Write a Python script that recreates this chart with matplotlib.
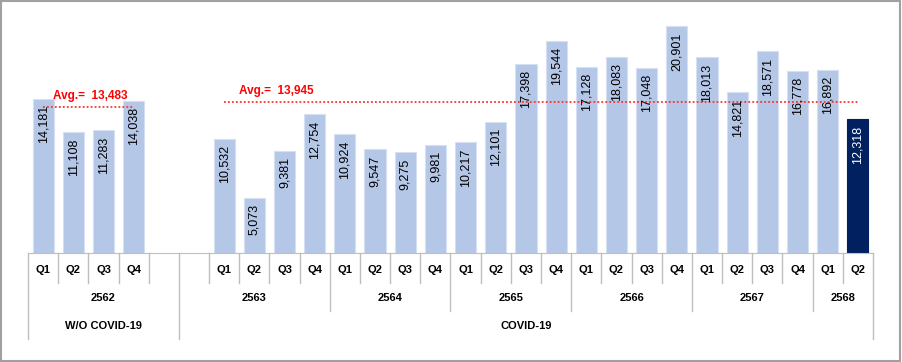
import matplotlib
matplotlib.use("Agg")
import matplotlib.pyplot as plt
import matplotlib.transforms as mtransforms
from matplotlib.patches import Rectangle

plt.rcParams['font.family'] = ['Liberation Sans', 'DejaVu Sans']

# ---- data ----
quarters = ['Q1', 'Q2', 'Q3', 'Q4', '',
            '', 'Q1', 'Q2', 'Q3', 'Q4',
            'Q1', 'Q2', 'Q3', 'Q4',
            'Q1', 'Q2', 'Q3', 'Q4',
            'Q1', 'Q2', 'Q3', 'Q4',
            'Q1', 'Q2', 'Q3', 'Q4',
            'Q1', 'Q2']
values = [14181, 11108, 11283, 14038, None,
          None, 10532, 5073, 9381, 12754,
          10924, 9547, 9275, 9981,
          10217, 12101, 17398, 19544,
          17128, 18083, 17048, 20901,
          18013, 14821, 18571, 16778,
          16892, 12318]
years = ['2562', '2563', '2564', '2565', '2566', '2567', '2568']
year_sizes = [5, 5, 4, 4, 4, 4, 2]
periods = ['W/O COVID-19', 'COVID-19']
period_sizes = [5, 23]
averages = [13483, 13945]
avg_spans = [(0, 3), (6, 27)]

light = '#B4C7E7'
dark = '#002060'
grid = '#BFBFBF'

fig = plt.figure(figsize=(9.02, 3.62), dpi=100)
ax = fig.add_axes([28 / 902, 109 / 362, 845 / 902, 243 / 362])

n = len(values)
for i, v in enumerate(values):
    if v is None:
        continue
    last = i == n - 1
    ax.bar(i, v, width=0.7, color=dark if last else light,
           edgecolor='#D6E0F2' if not last else dark, linewidth=0.8)
    ax.annotate(f"{v:,}", (i, v), xytext=(0, -4.5), textcoords='offset points',
                rotation=90, ha='center', va='top', fontsize=9,
                color='white' if last else 'black')

# average lines
for avg, (a, b) in zip(averages, avg_spans):
    ax.plot([a, b], [avg, avg], color='#FF3030', linestyle=(0, (1, 1.2)), lw=1.3)
ax.text(1.55, averages[0] + 450, f"Avg.=  {averages[0]:,}", color='red',
        fontsize=8.5, fontweight='bold', ha='center', va='bottom')
ax.text(6.5, averages[1] + 450, f"Avg.=  {averages[1]:,}", color='red',
        fontsize=8.5, fontweight='bold', ha='left', va='bottom')

ax.set_xlim(-0.5, n - 0.5)
ax.set_ylim(0, 22376)
ax.set_xticks([])
ax.set_yticks([])
for s in ['top', 'left', 'right']:
    ax.spines[s].set_visible(False)
ax.spines['bottom'].set_color(grid)

# category table under the axis
trans = mtransforms.blended_transform_factory(ax.transData, ax.transAxes)
row1, row2, row3 = -0.123, -0.239, -0.354

year_bounds = [0]
for s in year_sizes:
    year_bounds.append(year_bounds[-1] + s)
period_bounds = [0]
for s in period_sizes:
    period_bounds.append(period_bounds[-1] + s)

for k in range(n + 1):
    if k in period_bounds:
        depth = row3
    elif k in year_bounds:
        depth = row2
    else:
        depth = row1
    ax.plot([k - 0.5, k - 0.5], [0, depth], color=grid, lw=1,
            transform=trans, clip_on=False)

for i, q in enumerate(quarters):
    if q:
        ax.text(i, -0.07, q, transform=trans, ha='center', va='center',
                fontsize=8, fontweight='bold')

for name, a, b in zip(years, year_bounds[:-1], year_bounds[1:]):
    ax.text((a + b - 1) / 2, -0.185, name, transform=trans, ha='center',
            va='center', fontsize=8, fontweight='bold')

for name, a, b in zip(periods, period_bounds[:-1], period_bounds[1:]):
    ax.text((a + b - 1) / 2, -0.30, name, transform=trans, ha='center',
            va='center', fontsize=8, fontweight='bold')

# outer frame
fig.patches.append(Rectangle((0.001, 0.004), 0.997, 0.993, transform=fig.transFigure,
                             fill=False, edgecolor='#A0A0A0', lw=1.5))

fig.savefig('out.png', dpi=100)
